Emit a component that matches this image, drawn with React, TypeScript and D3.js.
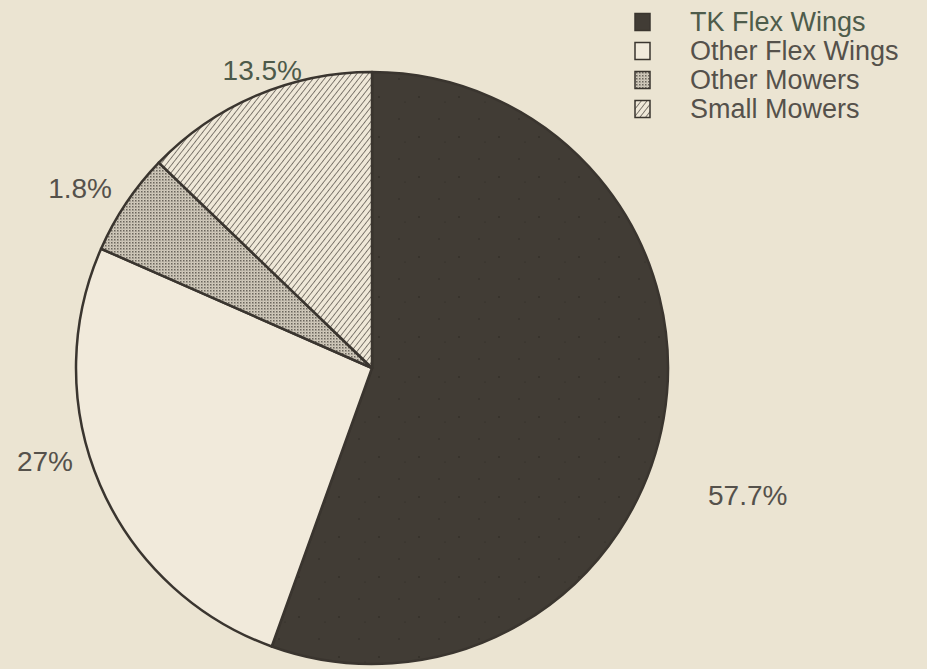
import React from "react";
import * as d3 from "d3";

const categories = ["TK Flex Wings", "Other Flex Wings", "Other Mowers", "Small Mowers"];
// slice shares as drawn in the picture
const shares = [55.5, 26.1, 5.6, 12.8];
// printed labels
const valueLabels = ["57.7%", "27%", "1.8%", "13.5%"];

const W = 927;
const H = 669;
const cx = 372;
const cy = 368;
const R = 296;
const BG = "#ebe4d2";
const INK = "#3a352f";
const TEXT = "#55514b";

const fills = ["url(#dark)", "#f1eadb", "url(#stipple)", "url(#hatch)"];
const labelPos: [number, number, string][] = [
  [708, 505, "start"],
  [73, 471, "end"],
  [112, 198, "end"],
  [302, 80, "end"],
];

export default function App() {
  const pie = d3
    .pie<number>()
    .sort(null)
    .value((d) => d)
    .startAngle(0)
    .endAngle(2 * Math.PI);
  const arcs = pie(shares);
  const arc = d3.arc<d3.PieArcDatum<number>>().innerRadius(0).outerRadius(R);

  const legendY = d3.scaleBand<string>().domain(categories).range([7, 123]).padding(0);

  return (
    <svg
      width={W}
      height={H}
      style={{ position: "absolute", left: 0, top: 0, background: BG }}
      fontFamily="'Liberation Sans', Arial, Helvetica, sans-serif"
    >
      <defs>
        <pattern id="hatch" patternUnits="userSpaceOnUse" width="4.5" height="4.5" patternTransform="rotate(38)">
          <rect width="4.5" height="4.5" fill="#efe8d8" />
          <line x1="0" y1="0" x2="0" y2="4.5" stroke={INK} strokeWidth="1.2" />
        </pattern>
        <pattern id="stipple" patternUnits="userSpaceOnUse" width="3" height="3">
          <rect width="3" height="3" fill="#d2cbbc" />
          <rect x="0" y="0" width="1.5" height="1.5" fill="#6a655c" />
          <rect x="1.5" y="1.5" width="0.8" height="0.8" fill="#8a857b" />
        </pattern>
        <pattern id="dark" patternUnits="userSpaceOnUse" width="40" height="40">
          <rect width="40" height="40" fill="#413c35" />
          <circle cx="7" cy="9" r="0.8" fill="#2a2620" />
          <circle cx="27" cy="31" r="0.7" fill="#2a2620" />
          <circle cx="33" cy="14" r="0.6" fill="#2c2822" />
        </pattern>
      </defs>
      <rect width={W} height={H} fill={BG} />
      <g transform={`translate(${cx},${cy})`}>
        {arcs.map((a, i) => (
          <path key={i} d={arc(a) || ""} fill={fills[i]} stroke={INK} strokeWidth={2.5} strokeLinejoin="round" />
        ))}
      </g>
      {valueLabels.map((t, i) => (
        <text
          key={t}
          x={labelPos[i][0]}
          y={labelPos[i][1]}
          textAnchor={labelPos[i][2] as any}
          fontSize={28}
          fill={i === 3 ? "#4d5a4a" : TEXT}
        >
          {t}
        </text>
      ))}
      <g>
        {categories.map((c, i) => {
          const y = (legendY(c) || 0) + legendY.bandwidth() / 2;
          return (
            <g key={c}>
              <rect x={635} y={y - 8} width={15} height={17} fill={fills[i]} stroke={INK} strokeWidth={1.5} />
              <text x={690} y={y + 9} fontSize={27} fill={i === 0 ? "#4e5c4b" : TEXT}>
                {c}
              </text>
            </g>
          );
        })}
      </g>
    </svg>
  );
}
